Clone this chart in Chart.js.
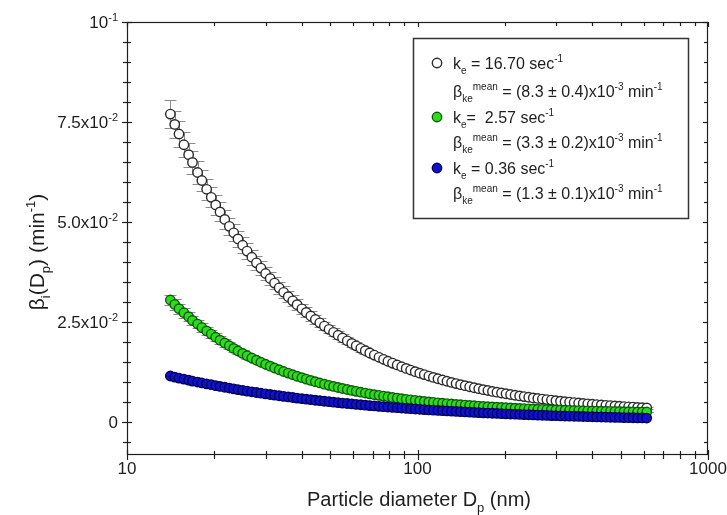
<!DOCTYPE html>
<html>
<head>
<meta charset="utf-8">
<script src="https://cdn.jsdelivr.net/npm/chart.js@4.4.1/dist/chart.umd.min.js"></script>
<style>
  html, body { margin: 0; padding: 0; background: #fff; }
</style>
</head>
<body>
<canvas id="myChart" width="727" height="515"></canvas>
<script>
// particle diameters (nm), SMPS channels
const diameters = [
  14.1, 14.6, 15.1, 15.7, 16.3, 16.8, 17.5, 18.1, 18.8, 19.5,
  20.2, 20.9, 21.7, 22.5, 23.3, 24.1, 25.0, 25.9, 26.9, 27.9,
  28.9, 30.0, 31.1, 32.2, 33.4, 34.6, 35.9, 37.2, 38.5, 40.0,
  41.4, 42.9, 44.5, 46.1, 47.8, 49.6, 51.4, 53.3, 55.2, 57.3,
  59.4, 61.5, 63.8, 66.1, 68.5, 71.0, 73.7, 76.4, 79.1, 82.0,
  85.1, 88.2, 91.4, 94.7, 98.2, 101.8, 105.5, 109.4, 113.4, 117.6,
  121.9, 126.3, 131.0, 135.8, 140.7, 145.9, 151.2, 156.8, 162.5, 168.5,
  174.7, 181.1, 187.7, 194.6, 201.7, 209.1, 216.7, 224.7, 232.9, 241.4,
  250.3, 259.5, 269.0, 278.8, 289.0, 299.6, 310.6, 322.0, 333.8, 346.0,
  358.7, 371.8, 385.4, 399.5, 414.2, 429.4, 445.1, 461.4, 478.3, 495.8,
  514.0, 532.8, 552.3, 572.5, 593.5, 615.3
];

// beta values in units of 10^-3 min^-1
// k_e = 16.70 sec^-1 (open circles)
const betaHigh = [
  76.98, 74.40, 72.00, 69.31, 66.83, 64.89, 62.37, 60.37, 58.18, 56.16,
  54.27, 52.52, 50.64, 48.91, 47.30, 45.78, 44.20, 42.73, 41.20, 39.79,
  38.48, 37.13, 35.88, 34.72, 33.54, 32.43, 31.33, 30.29, 29.33, 28.30,
  27.40, 26.51, 25.62, 24.79, 23.98, 23.17, 22.43, 21.69, 21.01, 20.30,
  19.65, 19.04, 18.41, 17.84, 17.28, 16.72, 16.18, 15.68, 15.20, 14.73,
  14.26, 13.82, 13.40, 12.99, 12.59, 12.21, 11.85, 11.49, 11.15, 10.81,
  10.50, 10.19, 9.89, 9.61, 9.33, 9.07, 8.81, 8.56, 8.32, 8.09,
  7.87, 7.65, 7.45, 7.25, 7.06, 6.87, 6.69, 6.52, 6.35, 6.19,
  6.03, 5.89, 5.74, 5.60, 5.47, 5.34, 5.21, 5.09, 4.98, 4.86,
  4.76, 4.65, 4.55, 4.45, 4.36, 4.27, 4.18, 4.10, 4.02, 3.94,
  3.86, 3.79, 3.72, 3.65, 3.59, 3.52
];
const errHigh = [
  3.46, 3.35, 3.24, 3.12, 3.01, 2.92, 2.81, 2.72, 2.62, 2.53,
  2.44, 2.36, 2.28, 2.20, 2.13, 2.06, 1.99, 1.92, 1.85, 1.79,
  1.73, 1.67, 1.61, 1.56, 1.51, 1.46, 1.41, 1.36, 1.32, 1.27,
  1.23, 1.19, 1.15, 1.12, 1.08, 1.04, 1.01, 0.98, 0.95, 0.91,
  0.88, 0.86, 0.83, 0.80, 0.78, 0.75, 0.73, 0.71, 0.68, 0.66,
  0.64, 0.62, 0.60, 0.58, 0.57, 0.55, 0.53, 0.52, 0.50, 0.49,
  0.47, 0.46, 0.45, 0.43, 0.42, 0.41, 0.40, 0.39, 0.37, 0.36,
  0.35, 0.34, 0.34, 0.33, 0.32, 0.31, 0.30, 0.29, 0.29, 0.28,
  0.27, 0.27, 0.26, 0.25, 0.25, 0.24, 0.23, 0.23, 0.22, 0.22,
  0.21, 0.21, 0.20, 0.20, 0.20, 0.19, 0.19, 0.18, 0.18, 0.18,
  0.17, 0.17, 0.17, 0.16, 0.16, 0.16
];

// k_e = 2.57 sec^-1 (green)
const betaMid = [
  30.50, 29.40, 28.34, 27.32, 26.34, 25.39, 24.49, 23.62, 22.78, 21.98,
  21.20, 20.46, 19.75, 19.06, 18.40, 17.76, 17.15, 16.57, 16.01, 15.46,
  14.94, 14.44, 13.96, 13.50, 13.06, 12.63, 12.22, 11.82, 11.44, 11.08,
  10.73, 10.39, 10.07, 9.76, 9.46, 9.17, 8.90, 8.63, 8.37, 8.13,
  7.89, 7.67, 7.45, 7.24, 7.04, 6.84, 6.66, 6.48, 6.31, 6.14,
  5.98, 5.83, 5.68, 5.54, 5.41, 5.28, 5.15, 5.03, 4.92, 4.80,
  4.70, 4.60, 4.50, 4.40, 4.31, 4.22, 4.14, 4.06, 3.98, 3.90,
  3.83, 3.76, 3.70, 3.63, 3.57, 3.51, 3.46, 3.40, 3.35, 3.30,
  3.25, 3.20, 3.16, 3.12, 3.07, 3.03, 3.00, 2.96, 2.92, 2.89,
  2.86, 2.83, 2.80, 2.77, 2.74, 2.71, 2.69, 2.66, 2.64, 2.62,
  2.59, 2.57, 2.55, 2.53, 2.51, 2.50
];
const errMid = [
  1.37, 1.32, 1.28, 1.23, 1.19, 1.14, 1.10, 1.06, 1.03, 0.99,
  0.95, 0.92, 0.89, 0.86, 0.83, 0.80, 0.77, 0.75, 0.72, 0.70,
  0.67, 0.65, 0.63, 0.61, 0.59, 0.57, 0.55, 0.53, 0.51, 0.50,
  0.48, 0.47, 0.45, 0.44, 0.43, 0.41, 0.40, 0.39, 0.38, 0.37,
  0.36, 0.35, 0.34, 0.33, 0.32, 0.31, 0.30, 0.29, 0.28, 0.28,
  0.27, 0.26, 0.26, 0.25, 0.24, 0.24, 0.23, 0.23, 0.22, 0.22,
  0.21, 0.21, 0.20, 0.20, 0.19, 0.19, 0.19, 0.18, 0.18, 0.18,
  0.17, 0.17, 0.17, 0.16, 0.16, 0.16, 0.16, 0.15, 0.15, 0.15,
  0.15, 0.14, 0.14, 0.14, 0.14, 0.14, 0.14, 0.13, 0.13, 0.13,
  0.13, 0.13, 0.13, 0.12, 0.12, 0.12, 0.12, 0.12, 0.12, 0.12,
  0.12, 0.12, 0.11, 0.11, 0.11, 0.11
];

// k_e = 0.36 sec^-1 (blue)
const betaLow = [
  11.50, 11.23, 10.97, 10.72, 10.47, 10.23, 9.99, 9.76, 9.54, 9.32,
  9.10, 8.89, 8.69, 8.49, 8.29, 8.10, 7.91, 7.73, 7.55, 7.37,
  7.20, 7.04, 6.88, 6.72, 6.56, 6.41, 6.26, 6.12, 5.98, 5.84,
  5.70, 5.57, 5.44, 5.32, 5.19, 5.07, 4.96, 4.84, 4.73, 4.62,
  4.51, 4.41, 4.31, 4.21, 4.11, 4.02, 3.92, 3.83, 3.74, 3.66,
  3.57, 3.49, 3.41, 3.33, 3.25, 3.18, 3.10, 3.03, 2.96, 2.89,
  2.83, 2.76, 2.70, 2.64, 2.58, 2.52, 2.46, 2.40, 2.35, 2.29,
  2.24, 2.19, 2.14, 2.09, 2.04, 1.99, 1.95, 1.90, 1.86, 1.81,
  1.77, 1.73, 1.69, 1.65, 1.61, 1.58, 1.54, 1.50, 1.47, 1.44,
  1.40, 1.37, 1.34, 1.31, 1.28, 1.25, 1.22, 1.19, 1.16, 1.14,
  1.11, 1.08, 1.06, 1.03, 1.01, 0.99
];

const xTicks = [10, 100, 1000];
const xTickLabels = ['10', '100', '1000'];
const yTicks = [0, 25, 50, 75, 100];
const yTickLabels = [
  [{t: '0'}],
  [{t: '2.5x10'}, {t: '-2', s: 'sup'}],
  [{t: '5.0x10'}, {t: '-2', s: 'sup'}],
  [{t: '7.5x10'}, {t: '-2', s: 'sup'}],
  [{t: '10'}, {t: '-1', s: 'sup'}]
];

const xTitle = [{t: 'Particle diameter D'}, {t: 'p', s: 'sub'}, {t: ' (nm)'}];
const yTitle = [{t: 'β'}, {t: 'i', s: 'sub'}, {t: '(D'}, {t: 'p', s: 'sub'}, {t: ') (min'}, {t: '-1', s: 'sup'}, {t: ')'}];

const legendRows = [
  [{t: 'k'}, {t: 'e', s: 'sub'}, {t: ' = 16.70 sec'}, {t: '-1', s: 'sup'}],
  [{t: 'β'}, {t: 'ke', s: 'sub'}, {t: 'mean', s: 'sup'}, {t: ' = (8.3 ± 0.4)x10'}, {t: '-3', s: 'sup'}, {t: ' min'}, {t: '-1', s: 'sup'}],
  [{t: 'k'}, {t: 'e', s: 'sub'}, {t: '=  2.57 sec'}, {t: '-1', s: 'sup'}],
  [{t: 'β'}, {t: 'ke', s: 'sub'}, {t: 'mean', s: 'sup'}, {t: ' = (3.3 ± 0.2)x10'}, {t: '-3', s: 'sup'}, {t: ' min'}, {t: '-1', s: 'sup'}],
  [{t: 'k'}, {t: 'e', s: 'sub'}, {t: ' = 0.36 sec'}, {t: '-1', s: 'sup'}],
  [{t: 'β'}, {t: 'ke', s: 'sub'}, {t: 'mean', s: 'sup'}, {t: ' = (1.3 ± 0.1)x10'}, {t: '-3', s: 'sup'}, {t: ' min'}, {t: '-1', s: 'sup'}]
];

const FONT = "'Liberation Sans', Arial, Helvetica, sans-serif";
const INK = '#1e1e1e';

function fontFor(seg, size) {
  return (seg.s ? Math.round(size * 0.64) : size) + 'px ' + FONT;
}

function richWidth(ctx, segs, size) {
  let w = 0;
  segs.forEach(seg => {
    ctx.font = fontFor(seg, size);
    w += ctx.measureText(seg.t).width;
  });
  return w;
}

function drawRich(ctx, segs, x, y, size, align) {
  const w = richWidth(ctx, segs, size);
  let cx = align === 'right' ? x - w : align === 'center' ? x - w / 2 : x;
  ctx.textAlign = 'left';
  ctx.textBaseline = 'alphabetic';
  segs.forEach(seg => {
    ctx.font = fontFor(seg, size);
    const dy = seg.s === 'sup' ? -size * 0.42 : seg.s === 'sub' ? size * 0.3 : 0;
    ctx.fillText(seg.t, cx, y + dy);
    cx += ctx.measureText(seg.t).width;
  });
}

function line(ctx, x1, y1, x2, y2) {
  ctx.beginPath();
  ctx.moveTo(x1, y1);
  ctx.lineTo(x2, y2);
  ctx.stroke();
}

// vertical error bars, drawn behind the markers
const errorBars = {
  id: 'errorBars',
  beforeDatasetsDraw(chart) {
    const ctx = chart.ctx;
    const xs = chart.scales.x, ys = chart.scales.y;
    ctx.save();
    ctx.strokeStyle = '#8c8c8c';
    ctx.lineWidth = 1;
    chart.data.datasets.forEach(ds => {
      if (!ds.errors) return;
      ds.data.forEach((p, i) => {
        const e = ds.errors[i];
        if (e === undefined) return;
        const px = Math.round(xs.getPixelForValue(p.x)) + 0.5;
        const top = Math.round(ys.getPixelForValue(p.y + e)) + 0.5;
        const bot = Math.round(ys.getPixelForValue(p.y - e)) + 0.5;
        line(ctx, px, top, px, bot);
        line(ctx, px - 6, top, px + 6, top);
        line(ctx, px - 6, bot, px + 6, bot);
      });
    });
    ctx.restore();
  }
};

// frame, crossing ticks, tick labels, axis titles and the legend box
const frame = {
  id: 'frame',
  afterDraw(chart) {
    const ctx = chart.ctx;
    const a = chart.chartArea;
    const xs = chart.scales.x, ys = chart.scales.y;
    ctx.save();
    ctx.strokeStyle = INK;
    ctx.fillStyle = INK;
    ctx.lineWidth = 1.2;
    ctx.strokeRect(a.left + 0.5, a.top + 0.5, a.right - a.left - 1, a.bottom - a.top - 1);

    // x ticks
    const xMinor = [];
    [10, 100].forEach(d => { for (let m = 2; m <= 9; m++) xMinor.push(m * d); });
    xTicks.forEach(v => {
      const px = Math.round(xs.getPixelForValue(v)) + 0.5;
      line(ctx, px, a.bottom - 5, px, a.bottom + 5);
      line(ctx, px, a.top, px, a.top + 5);
    });
    xMinor.forEach(v => {
      const px = Math.round(xs.getPixelForValue(v)) + 0.5;
      line(ctx, px, a.bottom - 4, px, a.bottom + 4);
      line(ctx, px, a.top, px, a.top + 4);
    });

    // y ticks
    for (let v = -5; v <= 100; v += 5) {
      const major = yTicks.includes(v);
      const len = major ? 5 : 4;
      const py = Math.round(ys.getPixelForValue(v)) + 0.5;
      line(ctx, a.left - len, py, a.left + len, py);
      line(ctx, a.right - len, py, a.right, py);
    }

    // tick labels
    xTicks.forEach((v, i) => {
      drawRich(ctx, [{t: xTickLabels[i]}], xs.getPixelForValue(v), a.bottom + 19, 17, 'center');
    });
    yTicks.forEach((v, i) => {
      drawRich(ctx, yTickLabels[i], a.left - 9, ys.getPixelForValue(v) + 6, 17, 'right');
    });

    // axis titles
    drawRich(ctx, xTitle, 419, 506, 20, 'center');
    ctx.save();
    ctx.translate(44, 252);
    ctx.rotate(-Math.PI / 2);
    drawRich(ctx, yTitle, 0, 0, 21, 'center');
    ctx.restore();

    // legend
    ctx.fillStyle = '#fff';
    ctx.fillRect(413, 38, 275, 180);
    ctx.strokeStyle = '#333';
    ctx.lineWidth = 1.5;
    ctx.strokeRect(413.5, 38.5, 275, 180);
    const baselines = [69, 97, 123, 148, 174, 199];
    const sets = chart.data.datasets;
    legendRows.forEach((row, i) => {
      if (i % 2 === 0) {
        const ds = sets[i / 2];
        ctx.beginPath();
        ctx.arc(437, baselines[i] - 6, ds.pointRadius, 0, Math.PI * 2);
        ctx.fillStyle = ds.backgroundColor;
        ctx.fill();
        ctx.lineWidth = ds.pointBorderWidth;
        ctx.strokeStyle = ds.borderColor;
        ctx.stroke();
      }
      ctx.fillStyle = INK;
      drawRich(ctx, row, 453, baselines[i], 16, 'left');
    });
    ctx.restore();
  }
};

const toPoints = ys => diameters.map((d, i) => ({x: d, y: ys[i]}));

new Chart(document.getElementById('myChart'), {
  type: 'scatter',
  data: {
    datasets: [
      {
        label: 'k_e = 16.70 sec^-1',
        data: toPoints(betaHigh),
        errors: errHigh,
        backgroundColor: '#ffffff',
        borderColor: '#2b2b2b',
        pointRadius: 4.7,
        pointBorderWidth: 1.4,
        order: 3
      },
      {
        label: 'k_e = 2.57 sec^-1',
        data: toPoints(betaMid),
        errors: errMid,
        backgroundColor: '#2fdc1c',
        borderColor: '#0d5a0d',
        pointRadius: 4.7,
        pointBorderWidth: 1.4,
        order: 2
      },
      {
        label: 'k_e = 0.36 sec^-1',
        data: toPoints(betaLow),
        backgroundColor: '#1111cc',
        borderColor: '#00005a',
        pointRadius: 4.7,
        pointBorderWidth: 1.4,
        order: 1
      }
    ]
  },
  options: {
    responsive: false,
    animation: false,
    layout: { padding: { left: 127, right: 19, top: 22, bottom: 60 } },
    scales: {
      x: { type: 'logarithmic', min: 10, max: 1000, display: false },
      y: { type: 'linear', min: -8.25, max: 100, display: false }
    },
    plugins: {
      legend: { display: false },
      tooltip: { enabled: false }
    }
  },
  plugins: [errorBars, frame]
});
</script>
</body>
</html>
